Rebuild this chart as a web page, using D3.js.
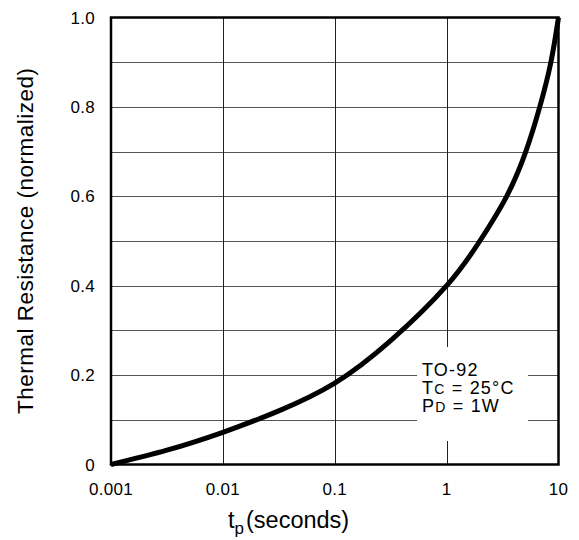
<!DOCTYPE html>
<html>
  <head>
    <meta charset="UTF-8" />
    <style>
      body { margin: 0; background: #fff; }
      svg { display: block; }
      text { font-family: "Liberation Sans", Arial, sans-serif; fill: #000; }
    </style>
  </head>
  <body>
    <svg></svg>
    <script src="https://d3js.org/d3.v7.min.js"></script>
    <script>
      // curve: t (s) -> normalized thermal resistance
      const tValues = [0.001, 0.00316, 0.01, 0.0316, 0.1, 0.316, 1, 1.98, 3.44, 5.1, 6.8, 8.55, 10];
      const rValues = [0, 0.032, 0.072, 0.12, 0.182, 0.277, 0.4, 0.5, 0.6, 0.7, 0.8, 0.9, 1.0];

      const xTicks = [0.001, 0.01, 0.1, 1, 10];
      const xTickLabels = ["0.001", "0.01", "0.1", "1", "10"];
      const yTicks = [0, 0.2, 0.4, 0.6, 0.8, 1.0];
      const yTickLabels = ["0", "0.2", "0.4", "0.6", "0.8", "1.0"];
      const yGrid = [0.1, 0.2, 0.3, 0.4, 0.5, 0.6, 0.7, 0.8, 0.9];
      const xGrid = [0.01, 0.1, 1];

      let width = 579,
        height = 540;
      let plotLeft = 111, plotRight = 558.5, plotTop = 17.5, plotBottom = 464.5;

      let svg = d3.select("svg").attr("width", width).attr("height", height);

      let x = d3.scaleLog().domain([0.001, 10]).range([plotLeft, plotRight]);
      let y = d3.scaleLinear().domain([0, 1]).range([plotBottom, plotTop]);

      // grid
      let grid = svg.append("g").attr("stroke", "#222").attr("stroke-width", 1);
      grid.selectAll(".hg")
        .data(yGrid)
        .enter()
        .append("line")
        .attr("x1", plotLeft)
        .attr("x2", plotRight)
        .attr("y1", (d) => Math.round(y(d)) + 0.5)
        .attr("y2", (d) => Math.round(y(d)) + 0.5)
        .attr("stroke", "#555");
      grid.selectAll(".vg")
        .data(xGrid)
        .enter()
        .append("line")
        .attr("x1", (d) => Math.round(x(d)) + 0.5)
        .attr("x2", (d) => Math.round(x(d)) + 0.5)
        .attr("y1", plotTop)
        .attr("y2", plotBottom);

      // note box hides the grid behind the text
      svg.append("rect")
        .attr("x", 417).attr("y", 347)
        .attr("width", 111).attr("height", 94)
        .attr("fill", "#fff");

      let note = svg.append("g").attr("transform", "translate(422,0)")
        .style("font-size", "18px").style("letter-spacing", "1.2px");
      note.append("text").attr("y", 376).text("TO-92");
      let t2 = note.append("text").attr("y", 394);
      t2.append("tspan").text("T");
      t2.append("tspan").style("font-size", "14px").text("C");
      t2.append("tspan").text(" = 25°C");
      let t3 = note.append("text").attr("y", 412);
      t3.append("tspan").text("P");
      t3.append("tspan").style("font-size", "14px").text("D");
      t3.append("tspan").text(" = 1W");

      // curve
      let line = d3.line()
        .x((d, i) => x(tValues[i]))
        .y((d) => y(d))
        .curve(d3.curveNatural);
      svg.append("path")
        .datum(rValues)
        .attr("d", line)
        .attr("fill", "none")
        .attr("stroke", "#000")
        .attr("stroke-width", 5)
        .attr("stroke-linecap", "butt");

      // frame
      svg.append("rect")
        .attr("x", plotLeft).attr("y", plotTop)
        .attr("width", plotRight - plotLeft).attr("height", plotBottom - plotTop)
        .attr("fill", "none").attr("stroke", "#000").attr("stroke-width", 2.5);

      // tick labels
      svg.append("g").selectAll("text")
        .data(xTicks)
        .enter()
        .append("text")
        .attr("x", (d) => x(d))
        .attr("y", 495)
        .attr("text-anchor", "middle")
        .style("font-size", "17px")
        .style("letter-spacing", "0.3px")
        .text((d, i) => xTickLabels[i]);

      svg.append("g").selectAll("text")
        .data(yTicks)
        .enter()
        .append("text")
        .attr("x", 95)
        .attr("y", (d) => y(d) + 6)
        .attr("text-anchor", "end")
        .style("font-size", "17px")
        .style("letter-spacing", "0.3px")
        .text((d, i) => yTickLabels[i]);

      // axis titles
      svg.append("text")
        .attr("transform", "translate(33," + (plotTop + plotBottom) / 2 + ") rotate(-90)")
        .attr("text-anchor", "middle")
        .style("font-size", "22.5px")
        .attr("textLength", 346)
        .attr("lengthAdjust", "spacing")
        .text("Thermal Resistance (normalized)");

      let xt = svg.append("text").attr("x", 228).attr("y", 528).style("font-size", "23.5px");
      xt.append("tspan").text("t");
      xt.append("tspan").attr("dy", 6).style("font-size", "17px").text("p");
      xt.append("tspan").attr("dy", -6).attr("dx", 2).text("(seconds)");
    </script>
  </body>
</html>
